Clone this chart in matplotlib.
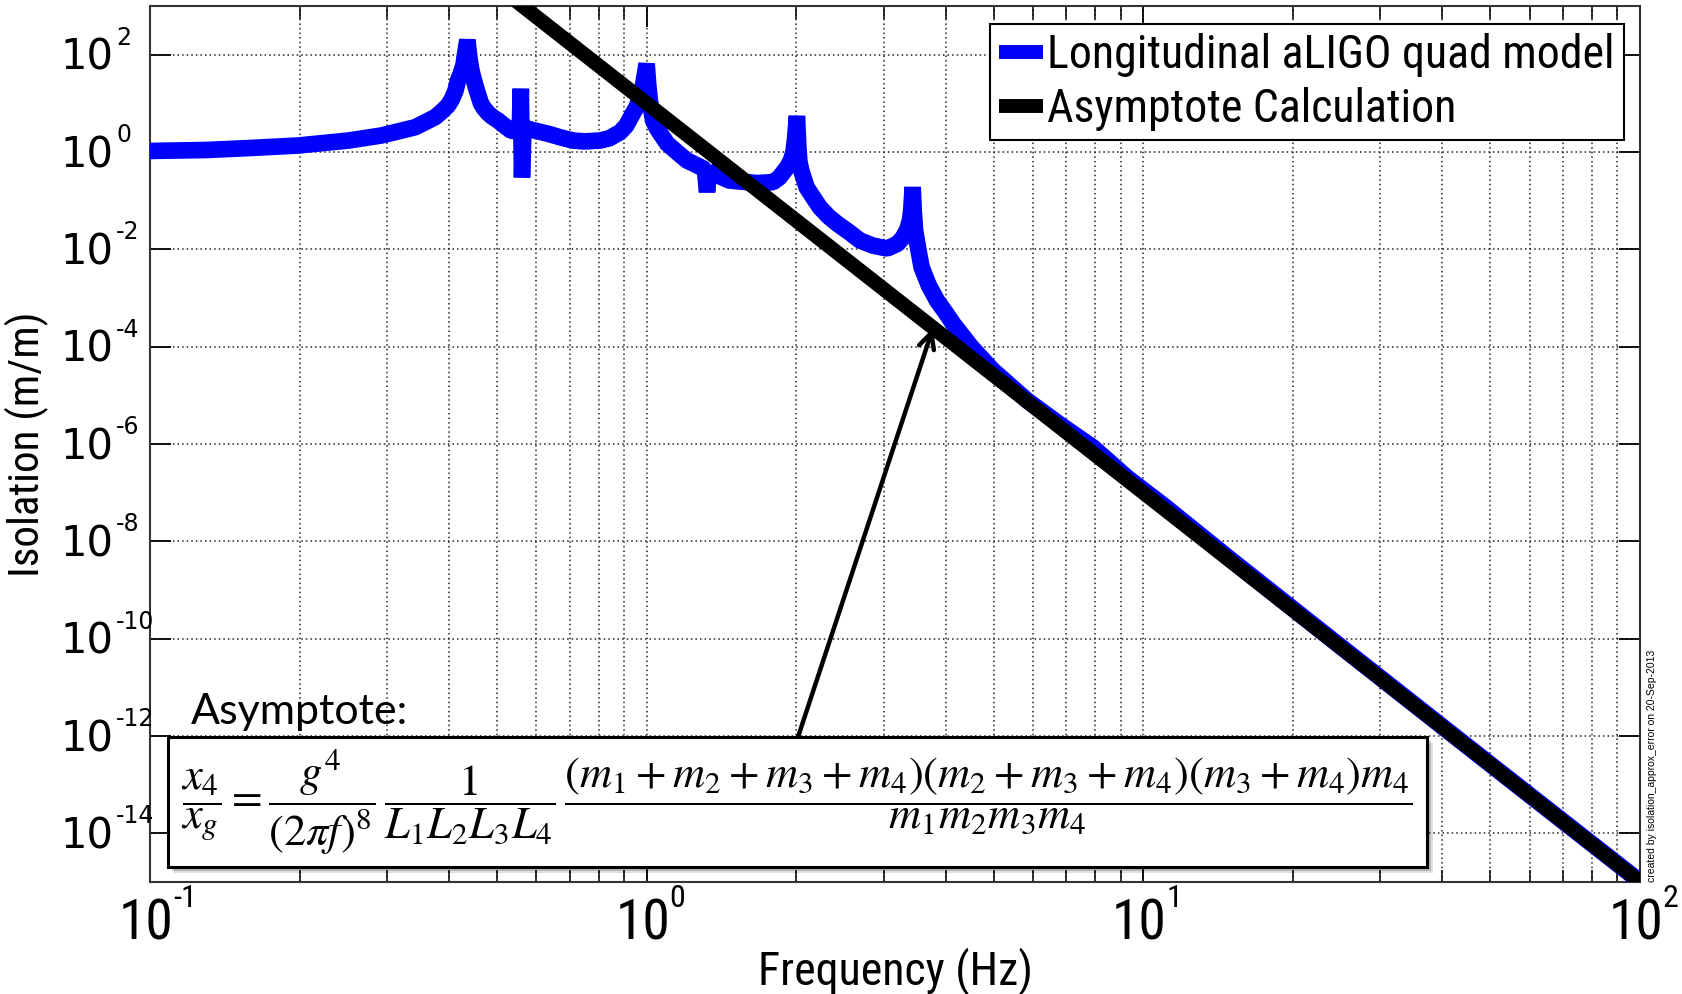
import matplotlib
matplotlib.use("Agg")
import matplotlib.pyplot as plt
from matplotlib.patches import Rectangle
from matplotlib.ticker import LogLocator, NullLocator, NullFormatter
from matplotlib.transforms import blended_transform_factory, ScaledTranslation

# longitudinal quad suspension isolation (m/m) vs frequency (Hz)
quad_freq = [0.100, 0.130, 0.157, 0.199, 0.251, 0.292, 0.342, 0.375, 0.385, 0.398,
             0.405, 0.412, 0.417, 0.422, 0.428, 0.430, 0.4355, 0.440, 0.443, 0.447,
             0.453, 0.458, 0.464, 0.470, 0.480, 0.490, 0.502, 0.515, 0.533, 0.555,
             0.558, 0.561, 0.565, 0.600, 0.636, 0.670, 0.711, 0.750, 0.805, 0.840,
             0.884, 0.910, 0.938, 0.955, 0.975, 0.985, 1.000, 1.007, 1.015, 1.030,
             1.050, 1.099, 1.150, 1.205, 1.250, 1.310, 1.323, 1.335, 1.465, 1.667,
             1.796, 1.850, 1.917, 1.950, 1.975, 1.990, 2.007, 2.020, 2.030, 2.050,
             2.100, 2.160, 2.233, 2.320, 2.416, 2.550, 2.688, 2.850, 3.047, 3.200,
             3.281, 3.350, 3.390, 3.410, 3.432, 3.450, 3.470, 3.520, 3.578, 3.700,
             3.841, 4.000, 4.137, 4.500, 4.980, 5.830, 6.800, 7.910, 9.300, 11.0,
             15.0, 25.0, 50.0, 100.0]
quad_mag = [1.05, 1.1, 1.2, 1.36, 1.72, 2.18, 3.23, 5.19, 6.5, 9.0,
            12, 18, 29.4, 40, 63, 90, 200, 80, 52, 35,
            21.4, 15, 9.9, 8.0, 6.2, 5.2, 4.44, 3.6, 2.75, 2.63,
            20, 0.3, 3.16, 2.7, 2.34, 2.0, 1.72, 1.65, 1.72, 1.9,
            2.55, 3.5, 6.2, 8.5, 15.8, 26, 65, 25, 11.2, 4.44,
            3.0, 1.5, 1.0, 0.67, 0.56, 0.44, 0.15, 0.40, 0.26, 0.23,
            0.24, 0.30, 0.48, 0.65, 1.0, 1.9, 5.5, 1.3, 0.63, 0.40,
            0.187, 0.12, 0.0726, 0.048, 0.034, 0.023, 0.0152, 0.012, 0.0104, 0.013,
            0.0175, 0.026, 0.04, 0.065, 0.19, 0.06, 0.025, 0.0105, 4.25e-3, 1.8e-3,
            8.9e-4, 5.0e-4, 3.0e-4, 1.0e-4, 3.26e-5, 7.9e-6, 2.5e-6, 8.6e-7, 2.0e-7, 5.4e-8,
            4.2e-9, 6.8e-11, 2.6e-13, 1.02e-15]

# f^-8 asymptote
asym_freq = [0.4, 100.0]
asym_mag = [1.53e4, 1.0e-15]

# point on the asymptote picked out by the arrow
arrow_freq = 3.77
arrow_mag = 2.4e-4

ytick_exp = [-14, -12, -10, -8, -6, -4, -2, 0, 2]
xtick_exp = [-1, 0, 1, 2]

narrow = ['Liberation Sans Narrow', 'Roboto Condensed', 'DejaVu Sans Condensed',
          'Liberation Sans', 'DejaVu Sans']
plt.rcParams['font.family'] = narrow
plt.rcParams['font.stretch'] = 'condensed'
plt.rcParams['mathtext.fontset'] = 'stix'

W, H = 1682, 994
fig = plt.figure(figsize=(W / 100, H / 100), dpi=100)
ax = fig.add_axes([150 / W, 1 - 882 / H, 1490 / W, 876 / H])

ax.loglog(quad_freq, quad_mag, color='#0000ff', lw=12, solid_joinstyle='bevel',
          label='Longitudinal aLIGO quad model', zorder=3)
ax.loglog(asym_freq, asym_mag, color='k', lw=10.5, solid_capstyle='butt',
          label='Asymptote Calculation', zorder=4)

ax.set_xlim(0.1, 100)
ax.set_ylim(1e-15, 1e3)
ax.set_yticks([10.0 ** e for e in ytick_exp])
ax.set_xticks([10.0 ** e for e in xtick_exp])
ax.yaxis.set_minor_locator(NullLocator())
ax.xaxis.set_minor_locator(LogLocator(base=10, subs=range(2, 10), numticks=20))
ax.xaxis.set_major_formatter(NullFormatter())
ax.yaxis.set_major_formatter(NullFormatter())
ax.xaxis.set_minor_formatter(NullFormatter())

dots = (0, (1, 2))
ax.grid(True, which='major', axis='both', linestyle=dots, color='#222222', lw=1.1)
ax.grid(True, which='minor', axis='x', linestyle=dots, color='#222222', lw=1.1)

ax.tick_params(which='major', direction='in', length=15, width=1.3, top=True, right=True)
ax.tick_params(which='minor', direction='in', length=9, width=1.1, top=True, right=True)
for s in ax.spines.values():
    s.set_linewidth(1.5)
    s.set_color('#333333')


def px(dx, dy):
    # offset in output pixels (y up)
    return ScaledTranslation(dx / 100, dy / 100, fig.dpi_scale_trans)


# power-of-ten tick labels: "10" with a small raised exponent
ty = blended_transform_factory(fig.transFigure, ax.transData)
for e in ytick_exp:
    v = 10.0 ** e
    ax.text(113 / W, v, '10', transform=ty + px(0, -3), fontsize=30,
            family='DejaVu Sans', stretch='normal', ha='right', va='center')
    ax.text(116 / W, v, str(e), transform=ty + px(0, 5), fontsize=17,
            family='DejaVu Sans', stretch='normal', ha='left', va='bottom')

tx = blended_transform_factory(ax.transData, fig.transFigure)
for e in xtick_exp:
    v = 10.0 ** e
    ax.text(v, 1 - 897 / H, '10', transform=tx + px(-4, 0), fontsize=40,
            ha='center', va='top', clip_on=False)
    ax.text(v, 1 - 884 / H, str(e), transform=tx + px(23, 0), fontsize=23,
            ha='left', va='top', clip_on=False)

ax.set_xlabel('Frequency (Hz)', fontsize=33)
ax.set_ylabel('Isolation (m/m)', fontsize=31)
ax.xaxis.set_label_coords(0.5, -0.0745)
ax.yaxis.set_label_coords(-0.068, 0.5)

leg = ax.legend(loc='upper right', bbox_to_anchor=(0.9893, 0.9795), borderaxespad=0,
                fontsize=33, fancybox=False, framealpha=1, edgecolor='k',
                handlelength=0.95, handletextpad=0.1, labelspacing=0.22,
                borderpad=0.2)
leg.get_frame().set_linewidth(1.5)
for h in leg.get_lines():
    h.set_linewidth(10)
    h.set_solid_capstyle('butt')

# equation box with a soft drop shadow
bx0, by0, bx1, by1 = 168, 737, 1427, 867
for k, a in enumerate([0.12, 0.18, 0.25]):
    off = 6 - 2 * k
    fig.patches.append(Rectangle(((bx0 + off) / W, 1 - (by1 + off) / H),
                                 (bx1 - bx0) / W, (by1 - by0) / H,
                                 transform=fig.transFigure, facecolor='k',
                                 edgecolor='none', alpha=a, zorder=5))
fig.patches.append(Rectangle((bx0 / W, 1 - by1 / H), (bx1 - bx0) / W, (by1 - by0) / H,
                             transform=fig.transFigure, facecolor='white',
                             edgecolor='k', lw=2.2, zorder=6))

eq = (r'$\dfrac{x_4}{x_g}=\dfrac{g^4}{\left(2\pi f\right)^8}\,\dfrac{1}{L_1L_2L_3L_4}\,'
      r'\dfrac{(m_1+m_2+m_3+m_4)(m_2+m_3+m_4)(m_3+m_4)m_4}{m_1m_2m_3m_4}$')
fig.text(797 / W, 1 - 802 / H, eq, fontsize=32, ha='center', va='center', zorder=7)
fig.text(191 / W, 1 - 724 / H, 'Asymptote:', fontsize=31, family='Lato',
         stretch='normal', ha='left', va='baseline', zorder=7)

ax.annotate('', xy=(arrow_freq, arrow_mag), xycoords='data',
            xytext=(798 / W, 1 - 737 / H), textcoords='figure fraction',
            arrowprops=dict(arrowstyle='->', lw=3.2, color='k', mutation_scale=28,
                            shrinkA=0, shrinkB=0), zorder=8)

fig.text(1652 / W, 1 - 882 / H, 'created by isolation_approx_error on 20-Sep-2013',
         rotation=90, fontsize=7.5, family='Liberation Sans', stretch='normal',
         ha='center', va='bottom')

fig.savefig('out.png', dpi=100)
